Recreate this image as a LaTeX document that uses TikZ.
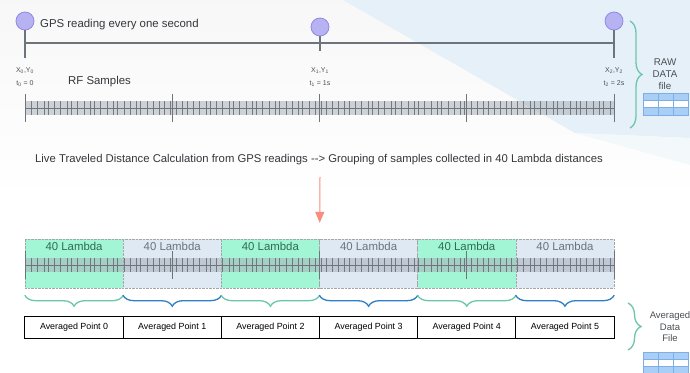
\documentclass[tikz,border=0pt]{standalone}
\usepackage{fontspec}
\setmainfont{Liberation Sans}
\usepackage{tikz}
\usetikzlibrary{calc}
\usetikzlibrary{positioning}
\usetikzlibrary{arrows.meta}
\usetikzlibrary{decorations.pathreplacing}

\definecolor{gpsfill}{HTML}{B7B3F2}
\definecolor{gpsedge}{HTML}{8F89E8}
\definecolor{linegray}{HTML}{6E747B}
\definecolor{labgray}{HTML}{4A4F55}
\definecolor{tickdark}{HTML}{5E656D}
\definecolor{ticklight}{HTML}{A9B0B8}
\definecolor{lamgreen}{HTML}{A2F6D6}
\definecolor{lamblue}{HTML}{DEE9F4}
\definecolor{txtgreen}{HTML}{2F6A55}
\definecolor{txtblue}{HTML}{6A737C}
\definecolor{braceteal}{HTML}{6CC6A9}
\definecolor{braceblue}{HTML}{2E7FC6}
\definecolor{arrowred}{HTML}{F98D7E}
\definecolor{iconblue}{HTML}{A9CFF6}
\definecolor{iconedge}{HTML}{7DAEE6}
\definecolor{skyblue}{HTML}{E6F0F8}

% dense RF sample ticks: #1 centre line, #2 short half height, #3 long half height
\newcommand{\rfticks}[3]{%
  \fill[ticklight,opacity=.55] (25,#1-#2) rectangle (614,#1+#2);
  \foreach \i in {0,...,280}{
    \pgfmathtruncatemacro{\dk}{mod(\i*37,11)<4 ? 1 : 0}
    \ifnum\dk=1
      \draw[tickdark,line width=.6pt,opacity=.8] (25+\i*2.1036,#1-#2) -- (25+\i*2.1036,#1+#2);
    \fi
  }
  \draw[linegray,line width=.8pt] (25,#1) -- (614,#1);
  \foreach \k in {0,...,4}
    \draw[linegray,line width=1pt] (25+\k*147.25,#1-#3) -- (25+\k*147.25,#1+#3);
}

% small table icon, top left corner at (#1,#2)
\newcommand{\dataicon}[2]{%
  \foreach \r/\f in {0/iconblue,1/white,2/iconblue}
    \filldraw[fill=\f,draw=iconedge,line width=.8pt] (#1,#2+\r*7.3) rectangle (#1+45,#2+\r*7.3+7.3);
  \foreach \c in {15,30}
    \draw[iconedge,line width=.8pt] (#1+\c,#2) -- (#1+\c,#2+21.9);
}

\begin{document}
\begin{tikzpicture}[x=1pt,y=-1pt,
  gps/.style={circle,draw=gpsedge,fill=gpsfill,minimum size=18pt,inner sep=0pt,line width=.8pt},
  axis/.style={draw=linegray,line width=1.2pt},
  tiny/.style={font=\fontsize{7}{8}\selectfont,text=labgray,inner sep=0pt},
  seg/.style={draw=gray!70,densely dotted,minimum width=98.17pt,minimum height=49pt,inner sep=0pt},
  avg/.style={draw=black,line width=1pt,minimum width=98.17pt,minimum height=22pt,inner sep=0pt,font=\fontsize{8.9}{10}\selectfont},
  lam/.style={font=\fontsize{11.4}{13}\selectfont,inner sep=0pt},
  brc/.style={decorate,decoration={brace,amplitude=#1},line width=1.3pt},
  side/.style={align=center,text=labgray,inner sep=0pt},
]
\useasboundingbox (0,0) rectangle (690,372);
\fill[white] (0,0) rectangle (690,372);
\shade[top color=black!3,bottom color=white] (0,0) rectangle (690,200);
\fill[skyblue] (343,0) -- (690,0) -- (690,138) -- (575,133) -- cycle;
\fill[skyblue!50] (575,133) -- (690,138) -- (690,165) -- cycle;

% GPS readings
\node[gps] (g0) at (25,21) {};
\node[gps] (g1) at (320,27) {};
\node[gps] (g2) at (614,21) {};
\coordinate (p0) at (25,58);
\coordinate (p1) at (320,51);
\coordinate (p2) at (614,58);
\coordinate (h0) at (25,43);
\coordinate (h2) at (614,43);
\draw[axis] (g0) -- (p0);
\draw[axis] (g1) -- (p1);
\draw[axis] (g2) -- (p2);
\draw[axis] (h0) -- (h2);
\node[anchor=west,inner sep=0pt,text=labgray!70!black,font=\fontsize{11.4}{13}\selectfont] (gpstxt) at (40,25) {GPS reading every one second};

\node[tiny] (xy0) at (25,71) {X\textsubscript{0},Y\textsubscript{0}};
\node[tiny] (t0) at (25,84) {t\textsubscript{0} = 0};
\node[tiny] (xy1) at (320,71) {X\textsubscript{1},Y\textsubscript{1}};
\node[tiny] (t1) at (320,84) {t\textsubscript{1} = 1s};
\node[tiny] (xy2) at (614,71) {X\textsubscript{2},Y\textsubscript{2}};
\node[tiny] (t2) at (614,84) {t\textsubscript{2} = 2s};
\node[anchor=west,inner sep=0pt,text=labgray!70!black,font=\fontsize{11.4}{13}\selectfont] (rf) at (68,82) {RF Samples};

% raw samples
\rfticks{108}{7}{14}

\draw[brc=12,braceteal] (630,21) -- (630,128);
\node[side,font=\fontsize{9.8}{12}\selectfont] (raw) at (665,74) {RAW\\DATA\\file};
\dataicon{643}{93}

% grouping
\node[inner sep=0pt,text=labgray!70!black,font=\fontsize{11.3}{13}\selectfont] (mid) at (319,160) {Live Traveled Distance Calculation from GPS readings {-}{-}> Grouping of samples collected in 40 Lambda distances};
\coordinate (a0) at (320,177);

\foreach \i/\c/\t in {0/lamgreen/txtgreen,1/lamblue/txtblue,2/lamgreen/txtgreen,3/lamblue/txtblue,4/lamgreen/txtgreen,5/lamblue/txtblue}{
  \node[seg,fill=\c] (s\i) at (74.08+98.17*\i,263.5) {};
  \node[lam,text=\t,below=3pt of s\i.north] (l\i) {40 Lambda};
}
\draw[-{Triangle[width=9pt,length=11pt]},arrowred,line width=1pt] (a0) -- ([yshift=16pt]s2.north east);

\rfticks{265}{7}{14}

\foreach \i/\b in {0/braceteal,1/braceblue,2/braceteal,3/braceblue,4/braceteal,5/braceblue}{
  \draw[brc=11,draw=\b] ([yshift=-7pt]s\i.south east) -- ([yshift=-7pt]s\i.south west);
  \node[avg] (p\i) at (74.08+98.17*\i,327) {Averaged Point \i};
}

\draw[brc=13,braceteal] (628,303) -- (628,350);
\node[side,font=\fontsize{9.5}{11.5}\selectfont] (avgfile) at (670,327) {Averaged\\Data\\File};
\dataicon{643}{352}
\end{tikzpicture}
\end{document}
